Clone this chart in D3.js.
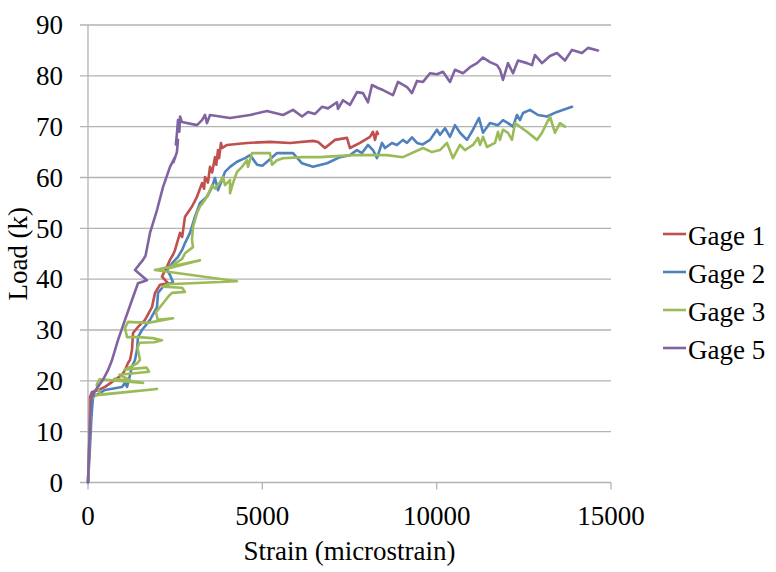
<!DOCTYPE html>
<html>
<head>
<meta charset="utf-8">
<script src="https://cdn.jsdelivr.net/npm/d3@7"></script>
</head>
<body style="margin:0">
<svg id="c" width="776" height="572"></svg>
<script>
// ---- Data (strain in microstrain, load in k) ----
const xTicks = [0, 5000, 10000, 15000];
const yTicks = [0, 10, 20, 30, 40, 50, 60, 70, 80, 90];
const seriesNames = ["Gage 1", "Gage 2", "Gage 3", "Gage 5"];
const seriesColors = ["#C0504D", "#4F81BD", "#9BBB59", "#8064A2"];

const gage1 = [[0,0],[30,6],[50,12],[57,16.8],[115,17.8],[300,18.2],[488,18.8],[774,20.2],[975,21.2],[1061,22.1],[1147,23.5],[1205,24.1],[1262,26.1],[1291,29.4],[1434,30.6],[1635,32.0],[1835,34.5],[1922,37.3],[2065,38.9],[2294,39.2],[2122,40.5],[2266,42.5],[2352,43.8],[2438,44.8],[2495,45.7],[2639,49.1],[2700,48.3],[2782,52.3],[2983,54.3],[3126,56.2],[3270,58.9],[3330,57.8],[3356,60.1],[3440,59.0],[3499,62.1],[3560,61.0],[3642,64.0],[3680,62.5],[3728,65.4],[3760,63.8],[3814,66.8],[3843,65.8],[3986,66.4],[4560,66.8],[5220,67.0],[5794,66.8],[6453,67.2],[6600,67.0],[6797,65.8],[7084,67.4],[7428,67.8],[7514,65.8],[7801,66.8],[8088,68.0],[8174,69.0],[8231,67.4],[8288,69.0],[8317,68.6]];

const gage2 = [[0,0],[50,6],[100,13],[143,16.8],[488,18.2],[975,18.8],[1061,19.6],[1119,18.8],[1200,21.0],[1262,22.8],[1348,24.1],[1405,26.1],[1434,28.6],[1549,30.0],[1778,32.0],[1979,34.5],[2008,37.3],[2151,38.5],[2438,39.4],[2352,40.8],[2266,41.8],[2409,43.1],[2581,44.4],[2696,45.7],[2782,47.1],[2925,49.1],[3069,52.3],[3212,55.0],[3413,56.2],[3556,58.1],[3642,59.9],[3728,57.5],[3843,59.5],[3929,61.1],[4073,62.1],[4273,63.1],[4503,63.8],[4650,64.4],[4850,62.5],[5000,62.3],[5220,63.6],[5421,64.8],[5880,64.8],[6138,62.8],[6453,62.1],[6854,62.8],[7227,64.0],[7514,64.4],[7715,65.4],[7858,64.8],[8030,66.4],[8174,65.4],[8288,63.8],[8432,66.8],[8518,65.8],[8718,66.8],[8862,66.4],[9034,67.4],[9149,66.8],[9292,67.9],[9436,66.8],[9600,66.5],[9809,67.4],[10009,69.4],[10095,68.4],[10239,69.7],[10382,68.0],[10525,70.3],[10669,68.8],[10870,67.4],[11042,69.4],[11214,71.7],[11329,68.8],[11530,70.7],[11759,70.3],[11902,71.3],[12046,70.7],[12189,70.0],[12304,72.3],[12390,71.3],[12476,72.7],[12676,73.3],[12906,72.3],[13164,72.0],[13451,72.9],[13881,73.9]];

const gage3 = [[0,0],[40,8],[90,16.5],[200,17.1],[1980,18.4],[350,17.3],[250,19.2],[330,20.3],[1580,19.6],[750,20.4],[1300,19.8],[900,21.2],[1750,21.8],[1680,22.6],[1050,22.2],[1400,23.4],[1491,24.1],[1420,26.5],[1480,27.5],[1900,27.6],[2122,28.0],[1850,28.4],[1434,28.6],[1119,28.6],[1061,30.4],[1147,31.6],[1721,31.4],[2438,32.3],[2000,32.0],[1950,33.5],[2294,36.5],[2409,37.3],[2782,37.5],[2700,38.3],[2151,38.5],[2300,39.0],[4273,39.6],[1922,41.8],[3212,43.7],[2294,42.1],[2700,44.0],[2782,45.1],[3011,46.3],[2983,47.7],[3011,50.3],[3126,53.0],[3212,54.3],[3356,55.6],[3499,57.5],[3556,58.5],[3650,57.8],[3786,59.1],[3872,60.1],[3930,58.5],[4073,59.5],[4073,56.9],[4159,58.9],[4273,61.1],[4417,62.1],[4560,63.4],[4589,62.1],[4704,64.8],[5019,64.8],[5220,64.8],[5277,62.5],[5421,63.4],[5593,63.8],[6166,64.0],[6654,64.0],[7600,64.4],[8575,64.4],[9034,64.0],[9608,65.8],[9866,65.0],[10095,65.4],[10296,66.8],[10468,63.8],[10669,66.4],[10812,65.4],[11042,66.4],[11186,67.8],[11243,66.4],[11329,68.0],[11443,66.0],[11673,66.8],[11759,69.0],[11816,67.4],[11902,69.4],[12046,68.8],[12160,67.4],[12247,70.7],[12590,69.0],[12877,67.4],[13021,68.8],[13250,72.0],[13393,68.8],[13537,70.7],[13680,70.0]];

const gage5 = [[0,0],[40,8],[80,15],[115,17.6],[150,17.0],[200,18.0],[430,20.2],[574,22.1],[690,24.1],[860,28.0],[1061,32.0],[1262,35.9],[1434,39.2],[1692,39.8],[1348,41.8],[1577,43.8],[1650,44.6],[1778,49.1],[1979,53.6],[2151,58.1],[2352,62.1],[2495,64.0],[2450,63.0],[2550,65.0],[2581,67.4],[2520,66.5],[2552,68.8],[2581,71.3],[2620,69.0],[2640,72.0],[2696,70.9],[3126,70.3],[3270,71.3],[3356,72.3],[3413,70.7],[3499,72.3],[4073,71.7],[4646,72.3],[5134,73.1],[5593,72.3],[5880,73.3],[6138,72.0],[6310,72.9],[6511,72.5],[6711,73.9],[6883,73.6],[7141,74.8],[7170,73.5],[7313,75.2],[7514,74.3],[7715,76.8],[7887,76.6],[8030,74.8],[8145,78.2],[8317,77.6],[8460,77.2],[8747,76.2],[8890,78.8],[9149,77.8],[9292,76.6],[9436,79.0],[9608,78.8],[9809,80.5],[10009,80.3],[10181,80.8],[10382,78.8],[10525,81.2],[10755,80.5],[10956,81.7],[11157,82.5],[11329,83.6],[11530,82.7],[11730,82.1],[11816,81.2],[11902,79.2],[12046,82.5],[12189,80.5],[12333,83.0],[12590,82.5],[12733,82.1],[12820,84.1],[13021,82.5],[13250,83.9],[13451,84.5],[13680,83.0],[13881,85.1],[14168,84.5],[14340,85.5],[14627,85.0]];

const seriesData = [gage1, gage2, gage3, gage5];

// ---- Layout ----
const svg = d3.select("#c");
const x = d3.scaleLinear().domain([0, 15000]).range([88, 611]);
const y = d3.scaleLinear().domain([0, 90]).range([482.5, 25]);
const gridColor = "#b3b3b3";
const fontSize = 27;

svg.append("g").selectAll("line").data(yTicks).join("line")
  .attr("x1", 80).attr("x2", 611)
  .attr("y1", d => y(d)).attr("y2", d => y(d))
  .attr("stroke", gridColor).attr("stroke-width", 1.3);

svg.append("line").attr("x1", x(0)).attr("x2", x(0)).attr("y1", y(90)).attr("y2", y(0))
  .attr("stroke", gridColor).attr("stroke-width", 1.3);

svg.append("g").selectAll("line").data(xTicks).join("line")
  .attr("x1", d => x(d)).attr("x2", d => x(d))
  .attr("y1", y(0)).attr("y2", y(0) + 7)
  .attr("stroke", gridColor).attr("stroke-width", 1.3);

function txt(sel) {
  return sel.attr("font-size", fontSize)
    .attr("font-family", "Times New Roman")
    .style("font-family", "\"Times New Roman\"");
}

txt(svg.append("g").selectAll("text").data(yTicks).join("text")
  .attr("x", 63).attr("y", d => y(d)).attr("dy", "0.34em")
  .attr("text-anchor", "end")
  .text(d => d));

txt(svg.append("g").selectAll("text").data(xTicks).join("text")
  .attr("x", d => x(d)).attr("y", 525)
  .attr("text-anchor", "middle")
  .text(d => d));

txt(svg.append("text").attr("x", (x(0) + x(15000)) / 2).attr("y", 560)
  .attr("text-anchor", "middle")
  .text("Strain (microstrain)"));
txt(svg.append("text").attr("transform", `translate(27,${(y(0) + y(90)) / 2}) rotate(-90)`)
  .attr("text-anchor", "middle")
  .text("Load (k)"));

const line = d3.line().x(d => x(d[0])).y(d => y(d[1]));
svg.append("g").selectAll("path").data(seriesData).join("path")
  .attr("d", line)
  .attr("fill", "none")
  .attr("stroke", (d, i) => seriesColors[i])
  .attr("stroke-width", 2.6)
  .attr("stroke-linejoin", "round")
  .attr("stroke-linecap", "round");

const legend = svg.append("g").selectAll("g").data(seriesNames).join("g")
  .attr("transform", (d, i) => `translate(663,${234 + i * 38})`);
legend.append("line").attr("x1", 0).attr("x2", 23).attr("y1", 0).attr("y2", 0)
  .attr("stroke", (d, i) => seriesColors[i]).attr("stroke-width", 2.6);
txt(legend.append("text").attr("x", 25).attr("y", 11)
  .text(d => d));
</script>
</body>
</html>
